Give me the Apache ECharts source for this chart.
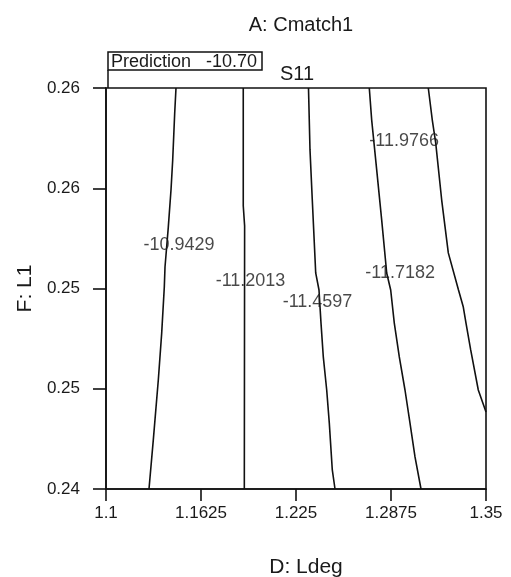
<html lang="en">
<head>
  <meta charset="utf-8"/>
  <script src="https://cdn.jsdelivr.net/npm/echarts@6/dist/echarts.min.js"></script>
  <style>
    html, body { margin: 0; padding: 0; background: #fff; }
    #chart { width: 511px; height: 577px; }
  </style>
</head>
<body>
<div id="chart"></div>
<script>
  // axis ticks (D: Ldeg, F: L1)
  var xTicks = [1.1, 1.1625, 1.225, 1.2875, 1.35];
  var xTickLabels = ['1.1', '1.1625', '1.225', '1.2875', '1.35'];
  var yTicks = [0.244, 0.248, 0.252, 0.256, 0.26];
  var yTickLabels = ['0.24', '0.25', '0.25', '0.26', '0.26'];

  // contour levels of S11 and their traced paths [Ldeg, L1]
  var levels = ['-10.9429', '-11.2013', '-11.4597', '-11.7182', '-11.9766'];
  var contour1 = [[1.14605, 0.26], [1.14520, 0.25900], [1.14388, 0.25713], [1.14276, 0.25593], [1.14099, 0.25445],
    [1.13882, 0.25286], [1.13836, 0.25206], [1.13664, 0.25022], [1.13441, 0.24835], [1.13112, 0.24596], [1.12829, 0.244]];
  var contour2 = [[1.1903, 0.26], [1.1903, 0.2553], [1.1912, 0.2545], [1.1910, 0.244]];
  var contour3 = [[1.23322, 0.26], [1.23421, 0.25753], [1.23572, 0.25553], [1.23796, 0.25262], [1.24013, 0.25194],
    [1.24145, 0.25062], [1.24296, 0.24927], [1.24520, 0.24795], [1.24691, 0.24663], [1.24888, 0.24476], [1.25066, 0.244]];
  var contour4 = [[1.27322, 0.26], [1.27480, 0.25872], [1.27809, 0.25673], [1.28138, 0.25473], [1.28467, 0.25262],
    [1.28730, 0.25194], [1.28967, 0.25062], [1.29296, 0.24927], [1.29671, 0.24795], [1.30000, 0.24663],
    [1.30329, 0.24528], [1.30724, 0.244]];
  var contour5 = [[1.31204, 0.26], [1.31467, 0.25872], [1.31691, 0.25781], [1.32085, 0.25553], [1.32520, 0.25342],
    [1.33191, 0.25194], [1.33507, 0.25126], [1.33684, 0.25062], [1.33993, 0.24955], [1.34493, 0.24795], [1.35, 0.24707]];
  // where each level label sits
  var labelPos = [[1.14803, 0.25374], [1.19507, 0.25228], [1.23914, 0.25146], [1.29349, 0.25261], [1.29618, 0.25787]];

  // design point prediction
  var predPoint = [1.1, 0.26];
  var predText = 'Prediction   -10.70';

  var font = 'Liberation Sans, Arial, Helvetica, sans-serif';
  var contours = [contour1, contour2, contour3, contour4, contour5];

  var series = contours.map(function (c, i) {
      return {
          name: levels[i],
          type: 'line',
          data: c,
          showSymbol: false,
          silent: true,
          lineStyle: { color: '#111', width: 1.6 },
          z: 2
      };
  });
  series.push({
      type: 'scatter',
      symbolSize: 0,
      silent: true,
      data: labelPos.map(function (p, i) { return { name: levels[i], value: p }; }),
      label: {
          show: true,
          position: 'inside',
          formatter: '{b}',
          color: '#1a1a1a',
          fontFamily: font,
          fontSize: 18
      },
      z: 3
  });

  var myChart = echarts.init(document.getElementById('chart'));
  var option = {
      animation: false,
      backgroundColor: '#fff',
      grid: {
          left: 106, right: 25, top: 88, bottom: 88,
          outerBoundsMode: 'none',
          containLabel: false,
          show: true,
          borderColor: '#111',
          borderWidth: 1.6
      },
      title: [
          { text: 'A: Cmatch1', left: 296, top: 10, textAlign: 'center',
            textStyle: { fontFamily: font, fontSize: 20, fontWeight: 'normal', color: '#1a1a1a' } },
          { text: 'S11', left: 292, top: 59, textAlign: 'center',
            textStyle: { fontFamily: font, fontSize: 20, fontWeight: 'normal', color: '#1a1a1a' } }
      ],
      xAxis: {
          type: 'value',
          min: 1.1,
          max: 1.35,
          name: 'D: Ldeg',
          nameLocation: 'middle',
          nameGap: 68,
          nameTextStyle: { fontFamily: font, fontSize: 21, color: '#1a1a1a', padding: [0, 0, 0, 20] },
          axisLine: { lineStyle: { color: '#111', width: 1.6 } },
          axisTick: { customValues: xTicks, length: 12, lineStyle: { color: '#111', width: 1.6 } },
          axisLabel: {
              customValues: xTicks,
              margin: 16,
              fontFamily: font, fontSize: 17, color: '#1a1a1a',
              formatter: function (v) { return xTickLabels[xTicks.indexOf(v)]; }
          },
          splitLine: { show: false }
      },
      yAxis: {
          type: 'value',
          min: 0.244,
          max: 0.26,
          name: 'F: L1',
          nameLocation: 'middle',
          nameGap: 66,
          nameRotate: 90,
          nameTextStyle: { fontFamily: font, fontSize: 21, color: '#1a1a1a' },
          axisLine: { lineStyle: { color: '#111', width: 1.6 } },
          axisTick: { customValues: yTicks, length: 13, lineStyle: { color: '#111', width: 1.6 } },
          axisLabel: {
              customValues: yTicks,
              margin: 26,
              fontFamily: font, fontSize: 17, color: '#1a1a1a',
              formatter: function (v) { return yTickLabels[yTicks.indexOf(v)]; }
          },
          splitLine: { show: false }
      },
      series: series
  };
  myChart.setOption(option);

  // prediction flag pinned on the design point
  var p = myChart.convertToPixel({ gridIndex: 0 }, predPoint);
  var bx = p[0] + 2, by = p[1] - 36;
  myChart.setOption({
      graphic: [
          { type: 'line', shape: { x1: bx, y1: by + 18, x2: bx, y2: p[1] }, style: { stroke: '#111', lineWidth: 1.5 } },
          { type: 'rect', shape: { x: bx, y: by, width: 154, height: 18 }, style: { fill: '#fff', stroke: '#111', lineWidth: 1.5 } },
          { type: 'text', x: bx + 3, y: by + 10, style: { text: predText, fill: '#1a1a1a', font: '18px ' + font, verticalAlign: 'middle' } }
      ]
  });
</script>
</body>
</html>
